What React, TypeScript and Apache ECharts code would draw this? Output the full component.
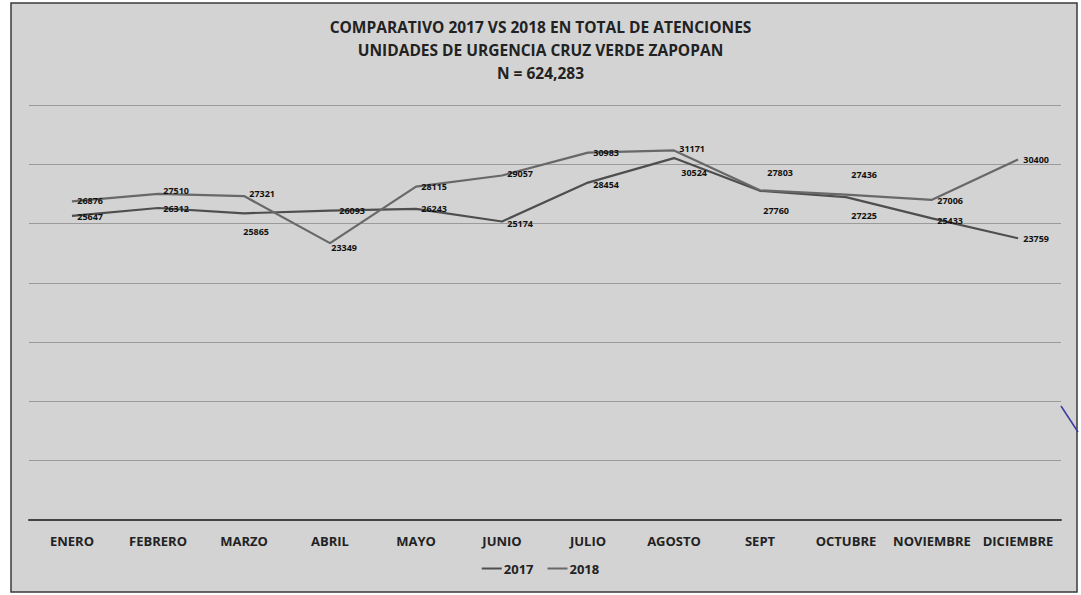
import React, { useEffect, useRef } from "react";
import * as echarts from "echarts";

const months = ["ENERO", "FEBRERO", "MARZO", "ABRIL", "MAYO", "JUNIO", "JULIO", "AGOSTO", "SEPT", "OCTUBRE", "NOVIEMBRE", "DICIEMBRE"];
const values2017 = [25647, 26312, 25865, 26093, 26243, 25174, 28454, 30524, 27760, 27225, 25433, 23759];
const values2018 = [26876, 27510, 27321, 23349, 28115, 29057, 30983, 31171, 27803, 27436, 27006, 30400];
const titleLines = ["COMPARATIVO 2017 VS 2018 EN TOTAL DE ATENCIONES", "UNIDADES DE URGENCIA CRUZ VERDE ZAPOPAN", "N = 624,283"];

// label offsets (style only)
const offsets2017: [number, number][] = [[0, 1], [0, 0], [-6, 18], [4, 0], [0, 0], [0, 2], [0, 2], [2, 14], [-2, 20], [0, 18], [0, 2], [0, 0]];
const offsets2018: [number, number][] = [[0, -1], [0, -3], [0, -3], [-4, 4], [0, 0], [0, -2], [0, 0], [0, -2], [2, -18], [0, -20], [0, 1], [0, 0]];

const FONT = "'Open Sans', 'Noto Sans', sans-serif";

export default function App() {
  const ref = useRef<HTMLDivElement>(null);
  useEffect(() => {
    document.body.style.margin = "0";
    const chart = echarts.init(ref.current!, null, { renderer: "svg" });
    const mk = (vals: number[], offs: [number, number][]) =>
      vals.map((v, i) => ({ value: v, label: { offset: offs[i] } }));
    const seriesCommon = {
      type: "line" as const,
      symbol: "circle",
      symbolSize: 0.5,
      showSymbol: true,
      lineStyle: { width: 2.2 },
      label: {
        show: true,
        position: "right" as const,
        distance: 5,
        fontSize: 9,
        fontWeight: "bold" as const,
        color: "#111",
        fontFamily: FONT,
      },
    };
    chart.setOption({
      animation: false,
      backgroundColor: "#ffffff",
      color: ["#4e4e4e", "#686868"],
      graphic: [
        { type: "rect", z: -10, shape: { x: 11, y: 3, width: 1066, height: 589 }, style: { fill: "#d3d3d3", stroke: "#3a3a3a", lineWidth: 1.5 } },
        { type: "line", shape: { x1: 1061, y1: 406, x2: 1078, y2: 432 }, style: { stroke: "#3b3aa0", lineWidth: 1.5 } },
        ...titleLines.map((t, i) => ({
          type: "text",
          left: "center",
          top: 19 + i * 23,
          style: { text: t, fontSize: 15.5, fontWeight: "bold", fill: "#222", fontFamily: FONT },
        })),
      ],
      grid: { left: 29, right: 20, top: 105, bottom: 75 },
      legend: {
        bottom: 15,
        left: "center",
        icon: "rect",
        itemWidth: 20,
        itemHeight: 2,
        itemGap: 14,
        textStyle: { fontSize: 13, fontWeight: "bold", color: "#222", fontFamily: FONT, padding: [0, 0, 0, -3] },
        data: ["2017", "2018"],
      },
      xAxis: {
        type: "category",
        data: months,
        boundaryGap: true,
        axisLine: { lineStyle: { color: "#444", width: 2 } },
        axisTick: { show: false },
        axisLabel: { fontSize: 13, fontWeight: "bold", color: "#222", margin: 14, fontFamily: FONT, interval: 0 },
      },
      yAxis: {
        type: "value",
        min: 0,
        max: 35000,
        interval: 5000,
        axisLabel: { show: false },
        axisLine: { show: false },
        axisTick: { show: false },
        splitLine: { lineStyle: { color: "#9a9a9a", width: 1 } },
      },
      series: [
        { ...seriesCommon, name: "2017", data: mk(values2017, offsets2017) },
        { ...seriesCommon, name: "2018", data: mk(values2018, offsets2018) },
      ],
    });
    return () => chart.dispose();
  }, []);
  return <div ref={ref} style={{ width: 1081, height: 595 }} />;
}
